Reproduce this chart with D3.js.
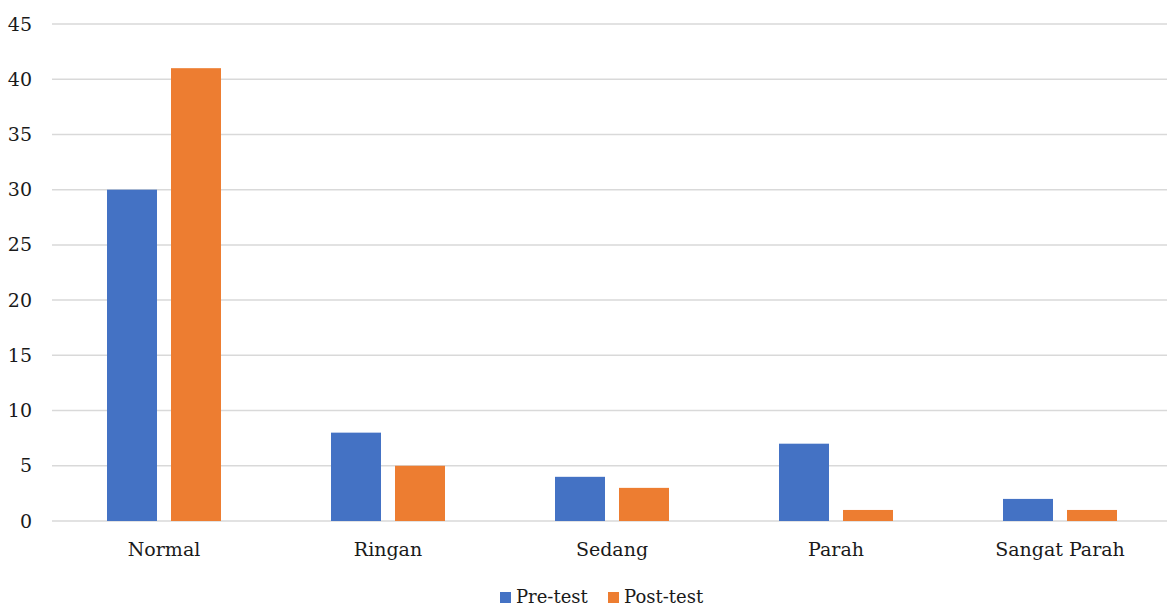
<!DOCTYPE html>
<html>
<head>
<meta charset="utf-8">
<script src="https://cdn.jsdelivr.net/npm/d3@7"></script>
<style>
  html, body { margin: 0; padding: 0; background: #fff; }
  svg { display: block; }
  text { font-family: "DejaVu Serif"; fill: #1a1a1a; }
</style>
</head>
<body>
<svg id="chart" width="1167" height="608"></svg>
<script>
const categories = ["Normal", "Ringan", "Sedang", "Parah", "Sangat Parah"];
const seriesNames = ["Pre-test", "Post-test"];
const preTest = [30, 8, 4, 7, 2];
const postTest = [41, 5, 3, 1, 1];
const yTicks = [0, 5, 10, 15, 20, 25, 30, 35, 40, 45];
const colors = ["#4472c4", "#ed7d31"];

const FONT = "'DejaVu Serif'";
const seriesValues = [preTest, postTest];
const rows = categories.map((c, i) => ({
  category: c,
  values: seriesNames.map((s, j) => ({ series: s, value: seriesValues[j][i] }))
}));

const svg = d3.select("#chart");
const plot = { left: 52, right: 1172, top: 24, bottom: 521 };

const x0 = d3.scaleBand().domain(categories).range([plot.left, plot.right]).padding(0);
const x1 = d3.scaleBand().domain(seriesNames).range([0, x0.bandwidth()])
  .paddingInner(0.21875).paddingOuter(0.859375);
const y = d3.scaleLinear().domain([0, 45]).range([plot.bottom, plot.top]);
const color = d3.scaleOrdinal().domain(seriesNames).range(colors);

// horizontal gridlines
svg.append("g")
  .selectAll("line")
  .data(yTicks)
  .join("line")
  .attr("x1", plot.left)
  .attr("x2", 1167)
  .attr("y1", d => y(d))
  .attr("y2", d => y(d))
  .attr("stroke", "#d9d9d9")
  .attr("stroke-width", 1.5);

// y-axis labels
const yAxis = d3.axisLeft(y).tickValues(yTicks).tickSize(0).tickPadding(0);
svg.append("g")
  .attr("transform", `translate(${plot.left - 20},0)`)
  .call(yAxis)
  .attr("font-family", null)
  .call(g => g.select(".domain").remove())
  .call(g => g.selectAll("text")
    .style("font-family", FONT)
    .style("font-size", "19px")
    .attr("fill", "#1a1a1a"));

// bars
svg.append("g")
  .selectAll("g")
  .data(rows)
  .join("g")
  .attr("transform", d => `translate(${x0(d.category)},0)`)
  .selectAll("rect")
  .data(d => d.values)
  .join("rect")
  .attr("x", d => x1(d.series))
  .attr("width", x1.bandwidth())
  .attr("y", d => y(d.value))
  .attr("height", d => y(0) - y(d.value))
  .attr("fill", d => color(d.series));

// category axis
const xAxis = d3.axisBottom(x0).tickSize(0).tickPadding(0);
svg.append("g")
  .attr("transform", `translate(0,${plot.bottom + 21})`)
  .call(xAxis)
  .attr("font-family", null)
  .call(g => g.select(".domain").remove())
  .call(g => g.selectAll("text")
    .style("font-family", FONT)
    .style("font-size", "19px")
    .attr("fill", "#1a1a1a"));

// legend
const legendPos = [500, 608];
const legend = svg.append("g")
  .selectAll("g")
  .data(seriesNames)
  .join("g")
  .attr("transform", (d, i) => `translate(${legendPos[i]},592)`);
legend.append("rect")
  .attr("width", 11).attr("height", 11)
  .attr("fill", d => color(d));
legend.append("text")
  .attr("x", 16).attr("y", 11)
  .style("font-family", FONT)
  .style("font-size", "18px")
  .text(d => d);
</script>
</body>
</html>
